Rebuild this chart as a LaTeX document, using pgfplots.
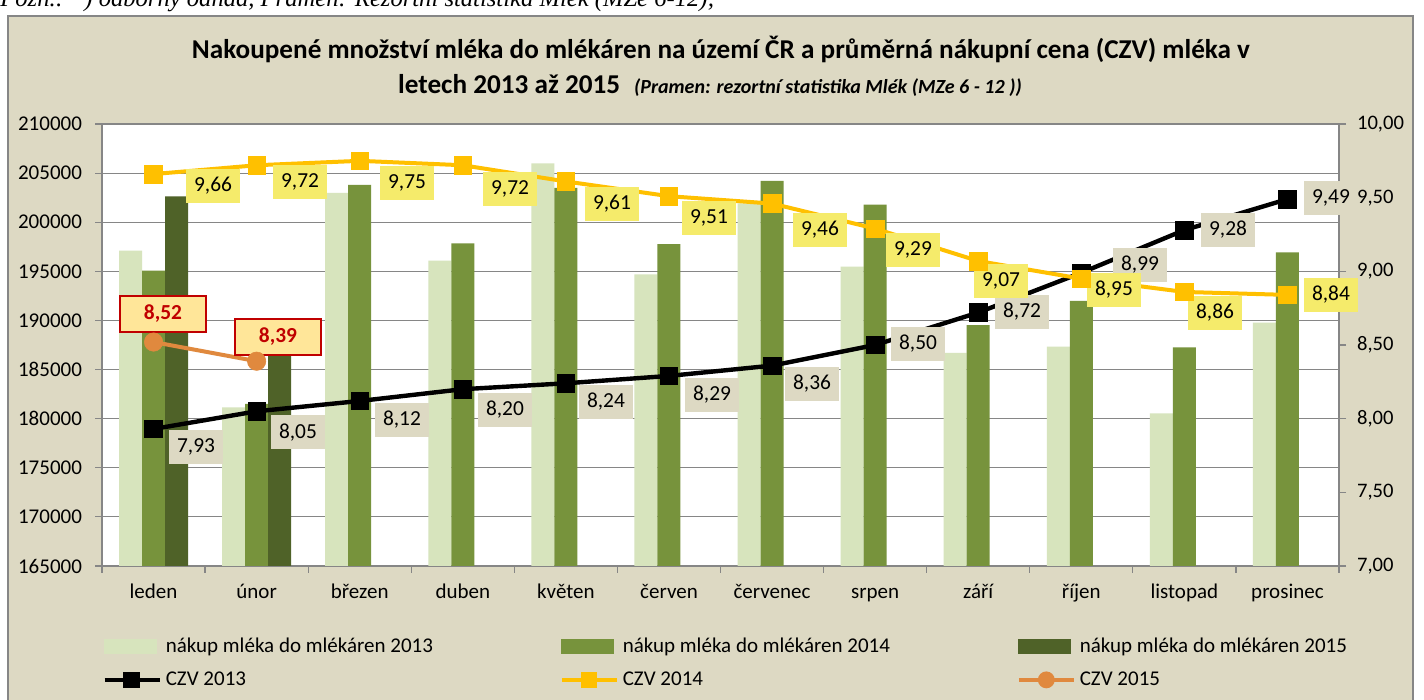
\documentclass[border=0pt]{standalone}
\usepackage{fontspec}
\setmainfont{Carlito}
\newfontfamily\timesfont{Liberation Serif}
\usepackage{pgfplots}
\pgfplotsset{compat=1.18}
\definecolor{bg}{HTML}{DDD9C3}
\definecolor{gridc}{HTML}{868686}
\definecolor{c13}{HTML}{D7E4BD}
\definecolor{c14}{HTML}{77933C}
\definecolor{c15}{HTML}{4F6228}
\definecolor{y14}{HTML}{FFC000}
\definecolor{o15}{HTML}{E0893E}
\definecolor{laby}{HTML}{F5EB6B}
\definecolor{labo}{HTML}{FFE699}
\definecolor{redl}{HTML}{C00000}
\begin{document}
\begin{tikzpicture}[
  lab13/.style={fill=bg, minimum width=27pt, minimum height=17pt, inner sep=0pt, font=\fontsize{10.7}{12}\selectfont},
  lab14/.style={fill=laby, minimum width=27pt, minimum height=17pt, inner sep=0pt, font=\fontsize{10.7}{12}\selectfont},
  lab15/.style={fill=labo, draw=redl, line width=1pt, minimum width=43pt, minimum height=18pt, inner sep=0pt, text=redl, font=\bfseries\fontsize{10.7}{12}\selectfont}
]
\useasboundingbox (0pt,0pt) rectangle (712pt,350pt);
\fill[bg] (4pt,-5pt) rectangle (706.5pt,342pt);
\draw[gridc, line width=0.6pt] (4pt,-5pt) rectangle (706.5pt,342pt);
\node[anchor=base west, inner sep=0pt, font=\timesfont\itshape\fontsize{12.3}{12}\selectfont] at (0pt,346.5pt) {Pozn.: *) odborný odhad, Pramen: Rezortní statistika Mlék (MZe 6-12);};
\node[font=\bfseries\fontsize{13.6}{15}\selectfont, inner sep=0pt] at (360.5pt,325.5pt) {Nakoupené množství mléka do mlékáren na území ČR a průměrná nákupní cena (CZV) mléka v};
\node[inner sep=0pt] at (355pt,307.5pt) {\bfseries\fontsize{13.6}{15}\selectfont letech 2013 až 2015\hspace{7pt}{\itshape\fontsize{10}{12}\selectfont (Pramen: rezortní statistika Mlék (MZe 6 - 12 ))}};

\begin{axis}[
  at={(51pt,67pt)}, anchor=south west,
  width=618.5pt, height=221pt, scale only axis,
  xmin=-0.5, xmax=11.5, ymin=165000, ymax=210000,
  ytick={165000,170000,...,210000},
  scaled y ticks=false,
  axis x line*=bottom, axis y line*=left,
  axis line style={gridc, line width=0.6pt},
  tick align=outside, major tick length=3.5pt,
  tick style={gridc, line width=0.6pt},
  ymajorgrids, grid style={gridc, line width=0.6pt},
  axis background/.style={fill=white},
  xtick={-0.5,0.5,...,11.5}, xticklabels={},
  extra x ticks={0,1,2,3,4,5,6,7,8,9,10,11},
  extra x tick labels={leden,únor,březen,duben,květen,červen,červenec,srpen,září,říjen,listopad,prosinec},
  extra x tick style={major tick length=0pt, xticklabel style={yshift=-5pt, text height=7.5pt, text depth=2.2pt}},
  every tick label/.append style={font=\fontsize{10.5}{12}\selectfont},
  yticklabel style={xshift=-3pt, /pgf/number format/.cd, fixed, precision=0, 1000 sep={}, assume math mode=true},
]
\addplot[ybar, bar width=11.5pt, bar shift=-11.5pt, fill=c13, draw=none] coordinates {
(0,197100) (1,181150) (2,203000) (3,196080) (4,206000) (5,194700) (6,201920) (7,195470) (8,186700) (9,187330) (10,180540) (11,189770)};
\addplot[ybar, bar width=11.5pt, bar shift=0pt, fill=c14, draw=none] coordinates {
(0,195060) (1,181500) (2,203800) (3,197850) (4,203500) (5,197780) (6,204220) (7,201780) (8,189530) (9,191980) (10,187260) (11,196930)};
\addplot[ybar, bar width=11.5pt, bar shift=11.5pt, fill=c15, draw=none] coordinates {
(0,202640) (1,187500)};
\end{axis}

\begin{axis}[
  at={(51pt,67pt)}, anchor=south west,
  width=618.5pt, height=221pt, scale only axis,
  xmin=-0.5, xmax=11.5, ymin=7, ymax=10,
  ytick={7,7.5,...,10},
  axis y line*=right, axis x line=none,
  axis line style={gridc, line width=0.6pt},
  tick align=outside, major tick length=3.5pt,
  tick style={gridc, line width=0.6pt},
  clip=false,
  every tick label/.append style={font=\fontsize{10.3}{12}\selectfont},
  yticklabel style={xshift=2pt, /pgf/number format/.cd, fixed, fixed zerofill, precision=2, use comma, assume math mode=true},
  legend columns=3,
  legend style={at={(axis description cs:0.0,-0.152)}, anchor=north west, draw=none, fill=none, inner sep=0pt,
    font=\fontsize{10.5}{12}\selectfont, row sep=4.2pt,
    /tikz/every even column/.append style={column sep=0pt}},
  legend cell align=left,
]
\addlegendimage{legend image code/.code={\fill[c13] (0pt,-3.5pt) rectangle (26pt,3.5pt);}}
\addlegendentry{\makebox[195pt][l]{nákup mléka do mlékáren 2013}}
\addlegendimage{legend image code/.code={\fill[c14] (0pt,-3.5pt) rectangle (26pt,3.5pt);}}
\addlegendentry{\makebox[195pt][l]{nákup mléka do mlékáren 2014}}
\addlegendimage{legend image code/.code={\fill[c15] (0pt,-3.5pt) rectangle (26pt,3.5pt);}}
\addlegendentry{\makebox[195pt][l]{nákup mléka do mlékáren 2015}}

\addplot[black, line width=2.2pt, mark=square*, mark size=4.4pt, mark options={solid, line width=0.3pt},
  legend image code/.code={\draw[black, line width=2.2pt] (0pt,0pt) -- (27.5pt,0pt); \fill[black] (10.5pt,-3pt) rectangle (16.5pt,3pt);}]
  coordinates {(0,7.93) (1,8.05) (2,8.12) (3,8.20) (4,8.24) (5,8.29) (6,8.36) (7,8.50) (8,8.72) (9,8.99) (10,9.28) (11,9.49)};
\addlegendentry{\makebox[195pt][l]{CZV 2013}}
\addplot[y14, line width=2pt, mark=square*, mark size=4.4pt, mark options={solid, line width=0.3pt},
  legend image code/.code={\draw[y14, line width=2pt] (0pt,0pt) -- (27.5pt,0pt); \fill[y14] (10.5pt,-3pt) rectangle (16.5pt,3pt);}]
  coordinates {(0,9.66) (1,9.72) (2,9.75) (3,9.72) (4,9.61) (5,9.51) (6,9.46) (7,9.29) (8,9.07) (9,8.95) (10,8.86) (11,8.84)};
\addlegendentry{\makebox[195pt][l]{CZV 2014}}
\addplot[o15, line width=2pt, mark=*, mark size=4.6pt, mark options={solid, line width=0.3pt},
  legend image code/.code={\draw[o15, line width=2pt] (0pt,0pt) -- (27.5pt,0pt); \fill[o15] (13.75pt,0pt) circle (3.2pt);}]
  coordinates {(0,8.52) (1,8.39)};
\addlegendentry{\makebox[195pt][l]{CZV 2015}}

% data labels CZV 2013
\node[lab13] at (axis cs:0.412,7.808) {7,93};
\node[lab13] at (axis cs:1.401,7.909) {8,05};
\node[lab13] at (axis cs:2.410,7.991) {8,12};
\node[lab13] at (axis cs:3.409,8.059) {8,20};
\node[lab13] at (axis cs:4.389,8.113) {8,24};
\node[lab13] at (axis cs:5.418,8.161) {8,29};
\node[lab13] at (axis cs:6.388,8.235) {8,36};
\node[lab13] at (axis cs:7.416,8.507) {8,50};
\node[lab13] at (axis cs:8.425,8.724) {8,72};
\node[lab13] at (axis cs:9.570,9.043) {8,99};
\node[lab13] at (axis cs:10.423,9.281) {9,28};
\node[lab13] at (axis cs:11.422,9.498) {9,49};
% data labels CZV 2014
\node[lab14] at (axis cs:0.577,9.579) {9,66};
\node[lab14] at (axis cs:1.421,9.606) {9,72};
\node[lab14] at (axis cs:2.459,9.600) {9,75};
\node[lab14] at (axis cs:3.458,9.559) {9,72};
\node[lab14] at (axis cs:4.447,9.457) {9,61};
\node[lab14] at (axis cs:5.388,9.362) {9,51};
\node[lab14] at (axis cs:6.465,9.281) {9,46};
\node[lab14] at (axis cs:7.367,9.145) {9,29};
\node[lab14] at (axis cs:8.221,8.934) {9,07};
\node[lab14] at (axis cs:9.317,8.873) {8,95};
\node[lab14] at (axis cs:10.297,8.717) {8,86};
\node[lab14] at (axis cs:11.422,8.839) {8,84};
% data labels CZV 2015
\node[lab15] at (axis cs:0.092,8.710) {8,52};
\node[lab15] at (axis cs:1.207,8.554) {8,39};
\end{axis}
\end{tikzpicture}
\end{document}
